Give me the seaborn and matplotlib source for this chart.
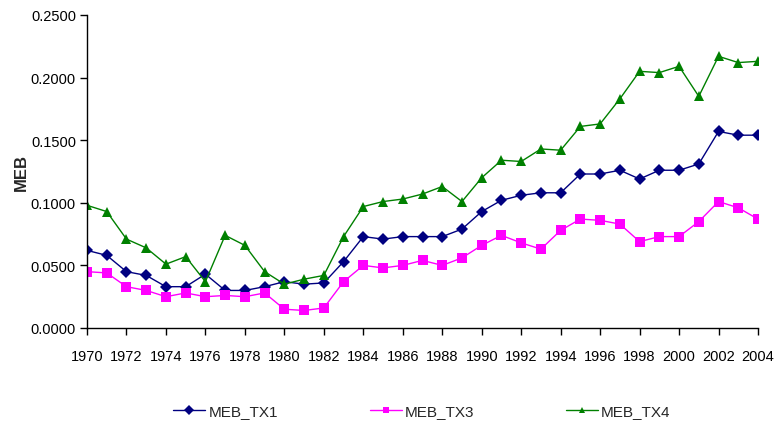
import matplotlib
matplotlib.use("Agg")
import matplotlib.pyplot as plt
from matplotlib import font_manager
from matplotlib.ticker import FormatStrFormatter
import pandas as pd
import seaborn as sns

years = list(range(1970, 2005))

meb_tx1 = [0.062, 0.058, 0.045, 0.042, 0.033, 0.033, 0.043, 0.030, 0.030, 0.033,
           0.037, 0.035, 0.036, 0.053, 0.073, 0.071, 0.073, 0.073, 0.073, 0.079,
           0.093, 0.102, 0.106, 0.108, 0.108, 0.123, 0.123, 0.126, 0.119, 0.126,
           0.126, 0.131, 0.157, 0.154, 0.154]

meb_tx3 = [0.045, 0.044, 0.033, 0.030, 0.025, 0.028, 0.025, 0.026, 0.025, 0.028,
           0.015, 0.014, 0.016, 0.037, 0.050, 0.048, 0.050, 0.054, 0.050, 0.056,
           0.066, 0.074, 0.068, 0.063, 0.078, 0.087, 0.086, 0.083, 0.069, 0.073,
           0.073, 0.085, 0.101, 0.096, 0.087]

meb_tx4 = [0.098, 0.093, 0.071, 0.064, 0.051, 0.057, 0.037, 0.074, 0.066, 0.045,
           0.035, 0.039, 0.042, 0.073, 0.097, 0.101, 0.103, 0.107, 0.113, 0.101,
           0.120, 0.134, 0.133, 0.143, 0.142, 0.161, 0.163, 0.183, 0.205, 0.204,
           0.209, 0.185, 0.217, 0.212, 0.213]

series_names = ["MEB_TX1", "MEB_TX3", "MEB_TX4"]
x_ticks = list(range(1970, 2005, 2))
y_ticks = [0.0, 0.05, 0.10, 0.15, 0.20, 0.25]

df = pd.DataFrame({
    "year": years * 3,
    "value": meb_tx1 + meb_tx3 + meb_tx4,
    "series": [series_names[0]] * len(years)
    + [series_names[1]] * len(years)
    + [series_names[2]] * len(years),
})

sns.set_theme(style="white")
available = {f.name for f in font_manager.fontManager.ttflist}
family = ["Liberation Sans Narrow", "Liberation Sans", "DejaVu Sans"]
family = [f for f in family if f in available] or ["DejaVu Sans"]
plt.rcParams["font.family"] = family

fig = plt.figure(figsize=(7.74, 4.27), dpi=100)
ax = fig.add_axes([87 / 774, 1 - 329 / 427, (758 - 87) / 774, (329 - 16) / 427])

palette = {"MEB_TX1": "#000080", "MEB_TX3": "#FF00FF", "MEB_TX4": "#008000"}
markers = {"MEB_TX1": "D", "MEB_TX3": "s", "MEB_TX4": "^"}

sns.lineplot(data=df, x="year", y="value", hue="series", style="series",
             palette=palette, markers=markers, dashes=False, ax=ax,
             linewidth=1.0, markersize=6.5, markeredgewidth=0, legend=True)

ax.set_xlim(1970, 2004)
ax.set_ylim(0, 0.25)
ax.set_xticks(x_ticks)
ax.set_xticklabels([str(t) for t in x_ticks])
ax.set_yticks(y_ticks)
ax.yaxis.set_major_formatter(FormatStrFormatter("%.4f"))

for side in ("top", "right"):
    ax.spines[side].set_visible(False)
for side in ("left", "bottom"):
    ax.spines[side].set_color("black")
    ax.spines[side].set_linewidth(1.0)

ax.tick_params(axis="both", which="major", direction="out", length=5,
               width=1.0, color="black", labelsize=10.5, labelcolor="black",
               bottom=True, left=True)
ax.tick_params(axis="x", pad=10)
ax.tick_params(axis="y", pad=3)

ax.set_xlabel("")
ax.set_ylabel("MEB", fontsize=12, fontweight="bold", labelpad=1)

handles, labels = ax.get_legend_handles_labels()
ax.get_legend().remove()
fig.legend(handles, labels, loc="center", ncol=3, frameon=False,
           bbox_to_anchor=(422 / 774, 1 - 412 / 427), fontsize=11,
           columnspacing=6.0, handlelength=2.1, handletextpad=0.2,
           markerscale=0.75)

fig.savefig("out.png", dpi=100)
